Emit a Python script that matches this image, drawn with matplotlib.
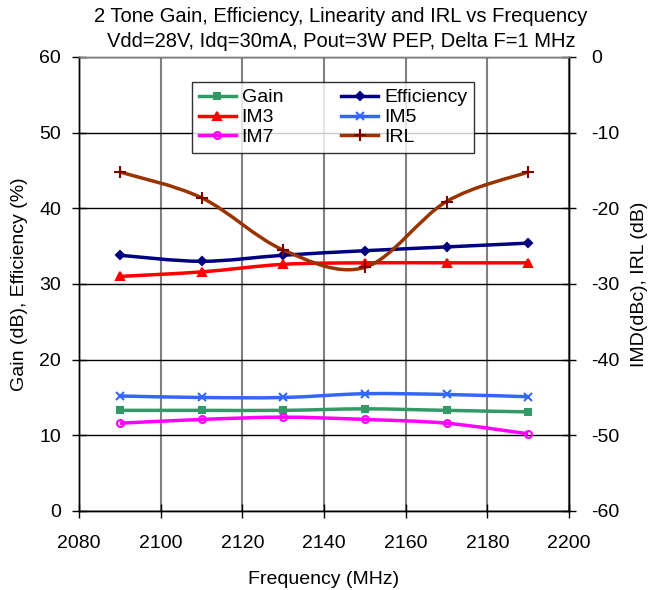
import numpy as np
import matplotlib.pyplot as plt
from matplotlib.path import Path
from matplotlib.patches import PathPatch
from matplotlib.lines import Line2D

plt.rcParams['font.family'] = ['Liberation Sans', 'DejaVu Sans']
plt.rcParams['axes.unicode_minus'] = False

freq = [2090, 2110, 2130, 2150, 2170, 2190]

# left axis
gain = [13.3, 13.3, 13.3, 13.5, 13.3, 13.1]
efficiency = [33.8, 33.0, 33.8, 34.4, 34.9, 35.4]

# right axis
im3 = [-29.0, -28.4, -27.4, -27.2, -27.2, -27.2]
im5 = [-44.8, -45.0, -45.0, -44.5, -44.6, -44.9]
im7 = [-48.4, -47.9, -47.6, -47.9, -48.4, -49.8]
irl = [-15.2, -18.6, -25.5, -27.8, -19.1, -15.2]


def smooth_path(x, y):
    # excel style smoothed line: cubic bezier segments through the points
    p = np.column_stack([x, y]).astype(float)
    n = len(p)
    verts = [p[0]]
    codes = [Path.MOVETO]
    for i in range(n - 1):
        p0 = p[i - 1] if i > 0 else p[i]
        p3 = p[i + 2] if i + 2 < n else p[i + 1]
        c1 = p[i] + (p[i + 1] - p0) / 6
        c2 = p[i + 1] - (p3 - p[i]) / 6
        verts += [c1, c2, p[i + 1]]
        codes += [Path.CURVE4] * 3
    return Path(verts, codes)


fig = plt.figure(figsize=(6.52, 5.9), dpi=100)
ax = fig.add_axes([0.1212, 0.1339, 0.7515, 0.7695])
ax2 = ax.twinx()

series = [
    (ax, gain, 'Gain', '#339966', '#339966', 's', 5),
    (ax, efficiency, 'Efficiency', '#000080', '#000080', 'D', 4),
    (ax2, im3, 'IM3', '#FF0000', '#FF0000', '^', 6),
    (ax2, im5, 'IM5', '#3366FF', '#3366FF', 'x', 6),
    (ax2, im7, 'IM7', '#FF00FF', '#FF00FF', 'o', 5),
    (ax2, irl, 'IRL', '#993300', '#800000', '+', 9),
]

handles = {}
for a, vals, name, lc, mc, m, ms in series:
    patch = PathPatch(smooth_path(freq, vals), facecolor='none', edgecolor=lc,
                      lw=2.5, transform=a.transData, zorder=3)
    a.add_patch(patch)
    mfc = 'none' if m == 'o' else mc
    a.plot(freq, vals, linestyle='none', marker=m, color=mc, ms=ms, mfc=mfc,
           mew=1.5, zorder=4)
    handles[name] = Line2D([], [], color=lc, lw=2.5, marker=m, ms=ms,
                           mfc=mfc, mec=mc, mew=1.5)

ax.set_xlim(2080, 2200)
ax.set_ylim(0, 60)
ax2.set_ylim(-60, 0)
ax.set_xticks(np.arange(2080, 2201, 20))
ax.set_yticks(np.arange(0, 61, 10))
ax2.set_yticks(np.arange(-60, 1, 10))

ax.grid(axis='x', color='#808080', lw=1.5)
ax.grid(axis='y', color='black', lw=1)
ax.set_axisbelow(True)

for a in (ax, ax2):
    a.tick_params(labelsize=14, direction='inout', length=10, width=1, pad=8)
    for s in a.spines.values():
        s.set_linewidth(1)
    a.spines['top'].set_color('#808080')
ax.tick_params(axis='x', pad=12)
ax2.tick_params(axis='y', pad=11)

ax.set_xlabel('Frequency (MHz)', fontsize=14, labelpad=14)
ax.set_ylabel('Gain (dB), Efficiency (%)', fontsize=14, labelpad=8)
ax2.set_ylabel('IMD(dBc), IRL (dB)', fontsize=14, labelpad=8)

fig.text(0.523, 0.972, '2 Tone Gain, Efficiency, Linearity and IRL vs Frequency',
         ha='center', va='center', fontsize=14.5)
fig.text(0.523, 0.93, 'Vdd=28V, Idq=30mA, Pout=3W PEP, Delta F=1 MHz',
         ha='center', va='center', fontsize=14.5)

order = ['Gain', 'IM3', 'IM7', 'Efficiency', 'IM5', 'IRL']
leg = ax2.legend([handles[k] for k in order], order, ncol=2, fontsize=14,
                 loc='upper left', bbox_to_anchor=(0.2306, 0.945),
                 borderaxespad=0, frameon=True, fancybox=False,
                 edgecolor='black', handlelength=1.9, handletextpad=0.3,
                 columnspacing=3.0, labelspacing=0.12, borderpad=0.35)
leg.get_frame().set_linewidth(1)

fig.savefig('out.png', dpi=100)
